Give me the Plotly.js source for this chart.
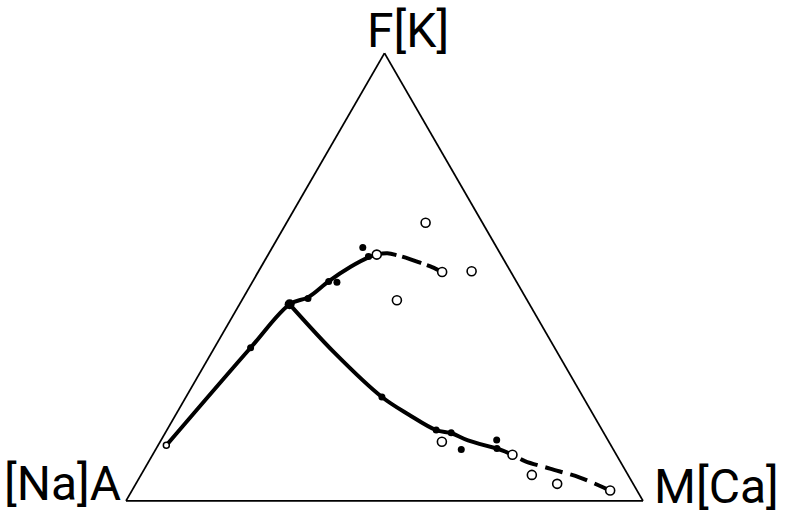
<!DOCTYPE html>
<html>
<head>
<meta charset="utf-8">
<script src="https://cdn.plot.ly/plotly-3.0.1.min.js"></script>
<style>
  html, body { margin: 0; padding: 0; background: #fff; }
  #chart { width: 787px; height: 515px; }
</style>
</head>
<body>
<div id="chart"></div>
<script>
// AFM diagram: F (top), A (bottom left), M (bottom right), values in percent.

// Filled symbols
const solidF = [34.2, 45.2, 49.0, 48.8, 56.6, 54.6, 23.2, 15.8, 15.2, 11.5, 13.6, 11.7];
const solidA = [58.8, 42.2, 36.3, 34.8, 25.9, 25.8, 38.9, 32.1, 29.5, 29.4, 21.5, 22.4];
const solidM = [7.0, 12.6, 14.7, 16.4, 17.5, 19.6, 37.9, 52.1, 55.3, 59.1, 64.9, 65.9];

// Branch point of the two trends
const branchF = [43.9];
const branchA = [46.4];
const branchM = [9.7];

// Open symbols
const openF = [62.1, 55.0, 51.1, 51.3, 44.8, 13.2, 10.3, 5.8, 3.8, 2.3];
const openA = [11.0, 24.0, 13.3, 7.5, 25.2, 32.3, 20.1, 18.6, 14.7, 5.2];
const openM = [26.9, 21.0, 35.6, 41.2, 30.0, 54.5, 69.6, 75.6, 81.5, 92.5];

// Starting composition (small open symbol at the A corner)
const startF = [12.4];
const startA = [86.0];
const startM = [1.6];

// Upper trend, solid part
const upF = [12.4, 34.2, 43.9, 45.5, 49.1, 52.3, 54.4, 55.0];
const upA = [86.0, 58.8, 46.4, 42.0, 36.2, 30.4, 25.9, 24.0];
const upM = [1.6, 7.0, 9.7, 12.5, 14.7, 17.3, 19.7, 21.0];

// Upper trend, dashed continuation
const upDashF = [55.0, 55.3, 54.8, 54.0, 53.0, 52.2, 51.1];
const upDashA = [24.0, 21.8, 20.0, 18.1, 16.2, 14.7, 13.3];
const upDashM = [21.0, 22.9, 25.2, 27.9, 30.8, 33.1, 35.6];

// Lower trend, solid part
const lowF = [43.9, 33.0, 23.2, 19.3, 15.8, 15.1, 13.5, 11.7];
const lowA = [46.4, 43.1, 38.9, 35.7, 32.1, 29.5, 27.1, 22.4];
const lowM = [9.7, 23.9, 37.9, 45.0, 52.1, 55.4, 59.4, 65.9];

// Lower trend, dashed continuation
const lowDashF = [11.7, 10.3, 8.9, 7.2, 5.2, 2.3];
const lowDashA = [22.4, 20.1, 18.4, 14.4, 9.6, 5.2];
const lowDashM = [65.9, 69.6, 72.7, 78.4, 85.2, 92.5];

const cornerLabels = { top: 'F[K]', left: '[Na]A', right: 'M[Ca]' };

const ink = '#000000';

function lineTrace(a, b, c, dash) {
  return {
    type: 'scatterternary', mode: 'lines',
    a: a, b: b, c: c,
    line: { color: ink, width: 4, shape: 'spline', smoothing: 1, dash: dash },
    hoverinfo: 'skip', showlegend: false
  };
}

function markerTrace(a, b, c, size, fill, lw) {
  return {
    type: 'scatterternary', mode: 'markers',
    a: a, b: b, c: c,
    marker: { symbol: 'circle', size: size, color: fill, line: { color: ink, width: lw } },
    hoverinfo: 'skip', showlegend: false
  };
}

const data = [
  lineTrace(upF, upA, upM, 'solid'),
  lineTrace(upDashF, upDashA, upDashM, '20px,6px'),
  lineTrace(lowF, lowA, lowM, 'solid'),
  lineTrace(lowDashF, lowDashA, lowDashM, '18px,8px'),
  markerTrace(solidF, solidA, solidM, 7, ink, 0),
  markerTrace(branchF, branchA, branchM, 10, ink, 0),
  markerTrace(openF, openA, openM, 9, '#ffffff', 1.6),
  markerTrace(startF, startA, startM, 6, '#ffffff', 1.5)
];

const axisStyle = {
  showline: true, linecolor: ink, linewidth: 1.8,
  showgrid: false, showticklabels: false, ticks: '',
  title: { text: '' }, min: 0
};

const labelFont = { family: 'Roboto, "Open Sans", sans-serif', size: 48, color: ink };

const layout = {
  width: 787, height: 515, autosize: false,
  margin: { l: 126, r: 144, t: 53, b: 14, pad: 0 },
  paper_bgcolor: '#ffffff',
  showlegend: false,
  hovermode: false,
  ternary: {
    sum: 100,
    bgcolor: '#ffffff',
    aaxis: axisStyle,
    baxis: axisStyle,
    caxis: axisStyle
  },
  annotations: [
    { text: cornerLabels.top, xref: 'paper', yref: 'paper', x: 0.5455, y: 1.050,
      xanchor: 'center', yanchor: 'middle', showarrow: false, font: labelFont, borderpad: 0 },
    { text: cornerLabels.left, xref: 'paper', yref: 'paper', x: -0.0077, y: 0.039,
      xanchor: 'right', yanchor: 'middle', showarrow: false, font: labelFont, borderpad: 0 },
    { text: cornerLabels.right, xref: 'paper', yref: 'paper', x: 1.0193, y: 0.0324,
      xanchor: 'left', yanchor: 'middle', showarrow: false, font: labelFont, borderpad: 0 }
  ]
};

Plotly.newPlot('chart', data, layout, { displayModeBar: false, staticPlot: true });
</script>
</body>
</html>
